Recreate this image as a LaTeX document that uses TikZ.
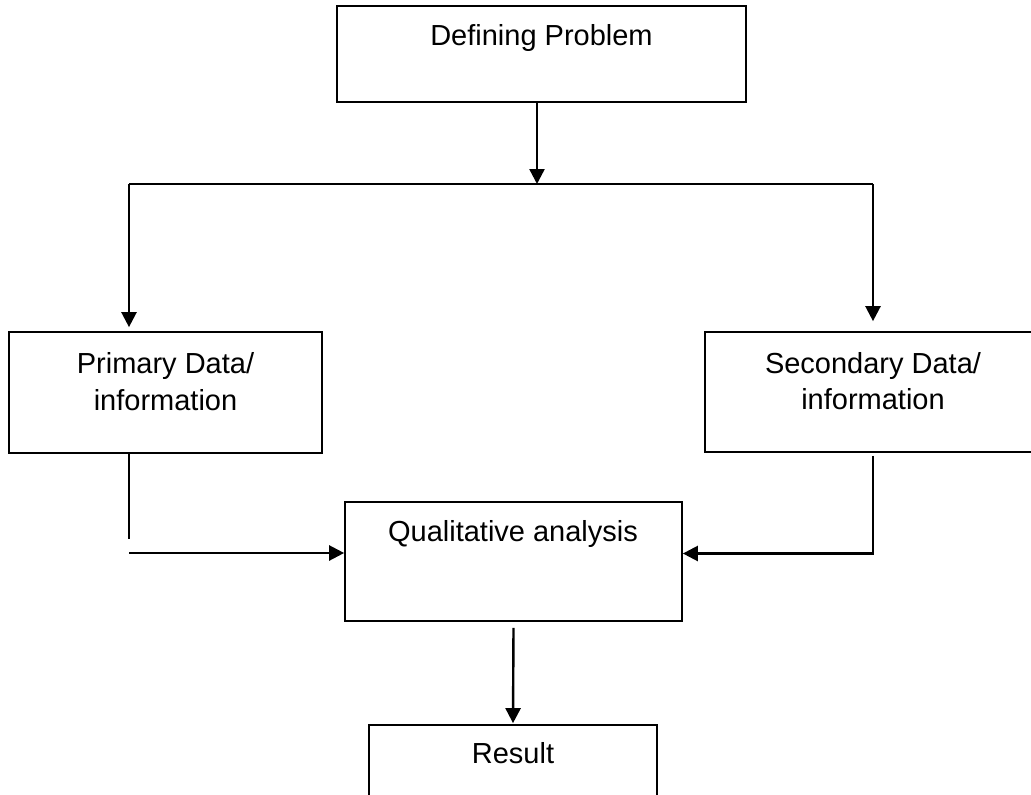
\documentclass[tikz,border=0pt]{standalone}
\usepackage{fontspec}
\setmainfont{Liberation Sans}
\usetikzlibrary{arrows.meta,calc}
\begin{document}
\begin{tikzpicture}[x=1pt,y=-1pt,
  box/.style={draw, line width=1.7pt, inner sep=0pt, rectangle},
  txt/.style={font=\fontsize{29}{37}\selectfont, inner sep=0pt, anchor=base},
  ln/.style={line width=1.7pt},
  arr/.style={line width=2.4pt, -{Triangle[length=15pt,width=15pt]}}]
\useasboundingbox (0,0) rectangle (1031,795);
\fill[white] (0,0) rectangle (1031,795);
\clip (0,0) rectangle (1031,795);
% boxes
\node[box, minimum width=409pt, minimum height=96pt] (def) at (541.5,54) {};
\node[box, minimum width=313pt, minimum height=121pt] (prim) at (165.5,392.5) {};
\node[box, minimum width=336pt, minimum height=120pt] (sec) at (873,392) {};
\node[box, minimum width=337pt, minimum height=119pt] (qual) at (513.5,561.5) {};
\node[box, minimum width=288pt, minimum height=120pt] (res) at (513,785) {};
% texts
\node[txt] (deft) at (541.5,45) {Defining Problem};
\node[txt] (primt1) at (165.5,373) {Primary Data/};
\node[txt] (primt2) at (165.5,410) {information};
\node[txt] (sect1) at (873,373) {Secondary Data/};
\node[txt] (sect2) at (873,409) {information};
\node[txt] (qualt) at (513,541) {Qualitative analysis};
\node[txt] (rest) at (513,763) {Result};
% connectors
\coordinate (hl) at (129,184);
\coordinate (hr) at (873,184);
\coordinate (dl) at (537,102);
\draw[arr] (def.south -| dl) -- (dl |- hl);
\draw[ln] (hl) -- (hr);
\draw[arr] (hl) -- ($(hl |- prim.north)+(0,-4)$);
\draw[arr] (hr) -- ($(hr |- sec.north)+(0,-10)$);
\coordinate (pb) at (129,539);
\draw[ln] (prim.south -| hl) -- (pb);
\coordinate (pa) at (129,553);
\draw[arr] (pa) -- (pa -| qual.west);
\draw[arr] ($(sec.south)+(0,3)$) |- ($(qual.east)+(0,-8)$);
\draw[arr] ($(qual.south)+(0,6)$) -- ($(res.north)+(0,-1)$);
\end{tikzpicture}
\end{document}
